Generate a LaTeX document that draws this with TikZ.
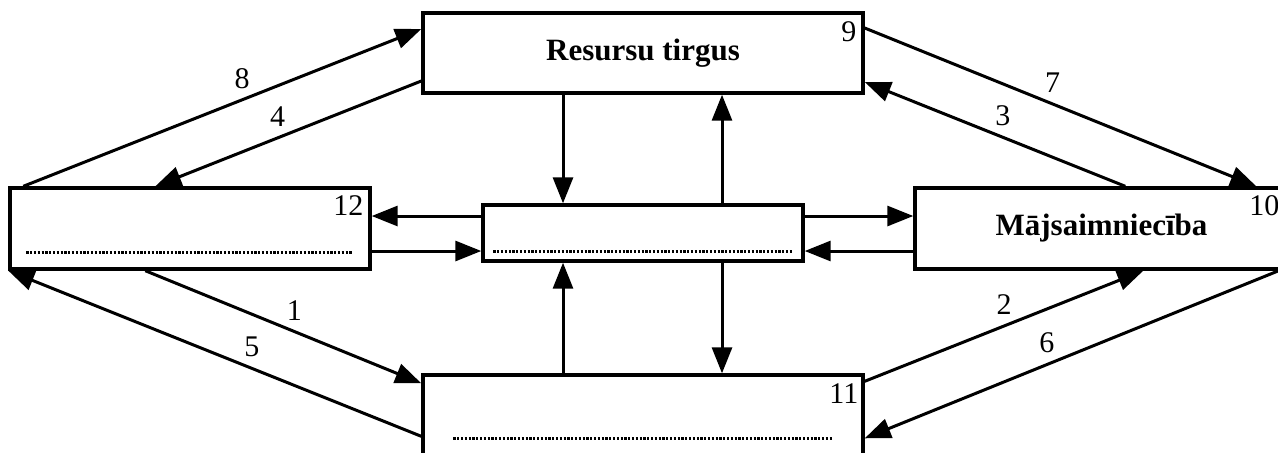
\documentclass[tikz,border=0pt]{standalone}
\usepackage{fontspec}
\setmainfont{Liberation Serif}
\usetikzlibrary{arrows.meta}

\begin{document}
\begin{tikzpicture}[x=0.5pt,y=-0.5pt,>={Triangle[length=13pt,width=10pt]},
box/.style={draw,line width=1.7pt,inner sep=0pt,font=\fontsize{15.5}{18}\selectfont\bfseries},
num/.style={inner sep=1pt,font=\fontsize{15}{17}\selectfont},
dots/.style={line width=1.3pt,dash pattern=on 1.1pt off 0.8pt},
flow/.style={->,line width=1.5pt}]
\useasboundingbox (0,0) rectangle (1278,452);
% boxes
\node[box,minimum width=220pt,minimum height=40pt] (res) at (643,53) {Resursu tirgus};
\node[box,minimum width=180pt,minimum height=40.5pt] (lbox) at (190,228.5) {};
\node[box,minimum width=160pt,minimum height=28pt] (cbox) at (643,233) {};
\node[box,minimum width=186.5pt,minimum height=40.5pt] (hh) at (1101.5,228.5) {Mājsaimniecība};
\node[box,minimum width=220pt,minimum height=40pt] (bbox) at (643,415) {};
% numbers in corners
\node[num,anchor=north east] (n9) at ([xshift=-3pt,yshift=-4pt]res.north east) {9};
\node[num,anchor=north east] (n10) at ([xshift=-4pt,yshift=-3.5pt]hh.north east) {10};
\node[num,anchor=north east] (n11) at ([xshift=-2pt,yshift=-4pt]bbox.north east) {11};
\node[num,anchor=north east] (n12) at ([xshift=-3pt,yshift=-3.5pt]lbox.north east) {12};
% dotted lines
\draw[dots] ([xshift=9pt,yshift=9pt]lbox.south west) -- ([xshift=-10pt,yshift=9pt]lbox.south east);
\draw[dots] ([xshift=6pt,yshift=5.5pt]cbox.south west) -- ([xshift=-6.5pt,yshift=5.5pt]cbox.south east);
\draw[dots] ([xshift=16pt,yshift=-32.5pt]bbox.north west) -- ([xshift=-16.5pt,yshift=-32.5pt]bbox.north east);
% diagonal flows
\path[flow]
([xshift=7.5pt]lbox.north west) edge node[num,above=4pt,pos=0.55]{8} ([yshift=12pt]res.west)
([yshift=-14pt]res.west) edge node[num,above=4pt,pos=0.54]{4} ([xshift=73.5pt]lbox.north west)
([yshift=12.5pt]res.east) edge node[num,above=4pt,pos=0.48]{7} ([xshift=171.5pt]hh.north west)
([xshift=106pt]hh.north west) edge node[num,above=4pt,pos=0.47]{3} ([yshift=-14.5pt]res.east)
([xshift=68.5pt]lbox.south west) edge node[num,above=4pt,pos=0.54]{1} ([yshift=-5pt]bbox.north west)
([yshift=-31.5pt]bbox.north west) edge node[num,above=4pt,pos=0.41]{5} (lbox.south west)
([yshift=-4pt]bbox.north east) edge node[num,above=4pt,pos=0.5]{2} ([xshift=115pt]hh.south west)
([xshift=-5.5pt]hh.south east) edge node[num,above=4pt,pos=0.56]{6} ([yshift=-32.5pt]bbox.north east);
% vertical flows
\path[flow]
([xshift=-40pt]res.south) edge ([xshift=-40pt]cbox.north)
([xshift=39.5pt]cbox.north) edge ([xshift=39.5pt]res.south)
([xshift=-40pt]bbox.north) edge ([xshift=-40pt]cbox.south)
([xshift=39.5pt]cbox.south) edge ([xshift=39.5pt]bbox.north);
% horizontal flows
\path[flow]
([yshift=8.5pt]cbox.west) edge ([yshift=8.5pt]cbox.west -| lbox.east)
([yshift=-9pt]cbox.west -| lbox.east) edge ([yshift=-9pt]cbox.west)
([yshift=8.5pt]cbox.east) edge ([yshift=8.5pt]cbox.east -| hh.west)
([yshift=-9pt]cbox.east -| hh.west) edge ([yshift=-9pt]cbox.east);
\end{tikzpicture}
\end{document}
